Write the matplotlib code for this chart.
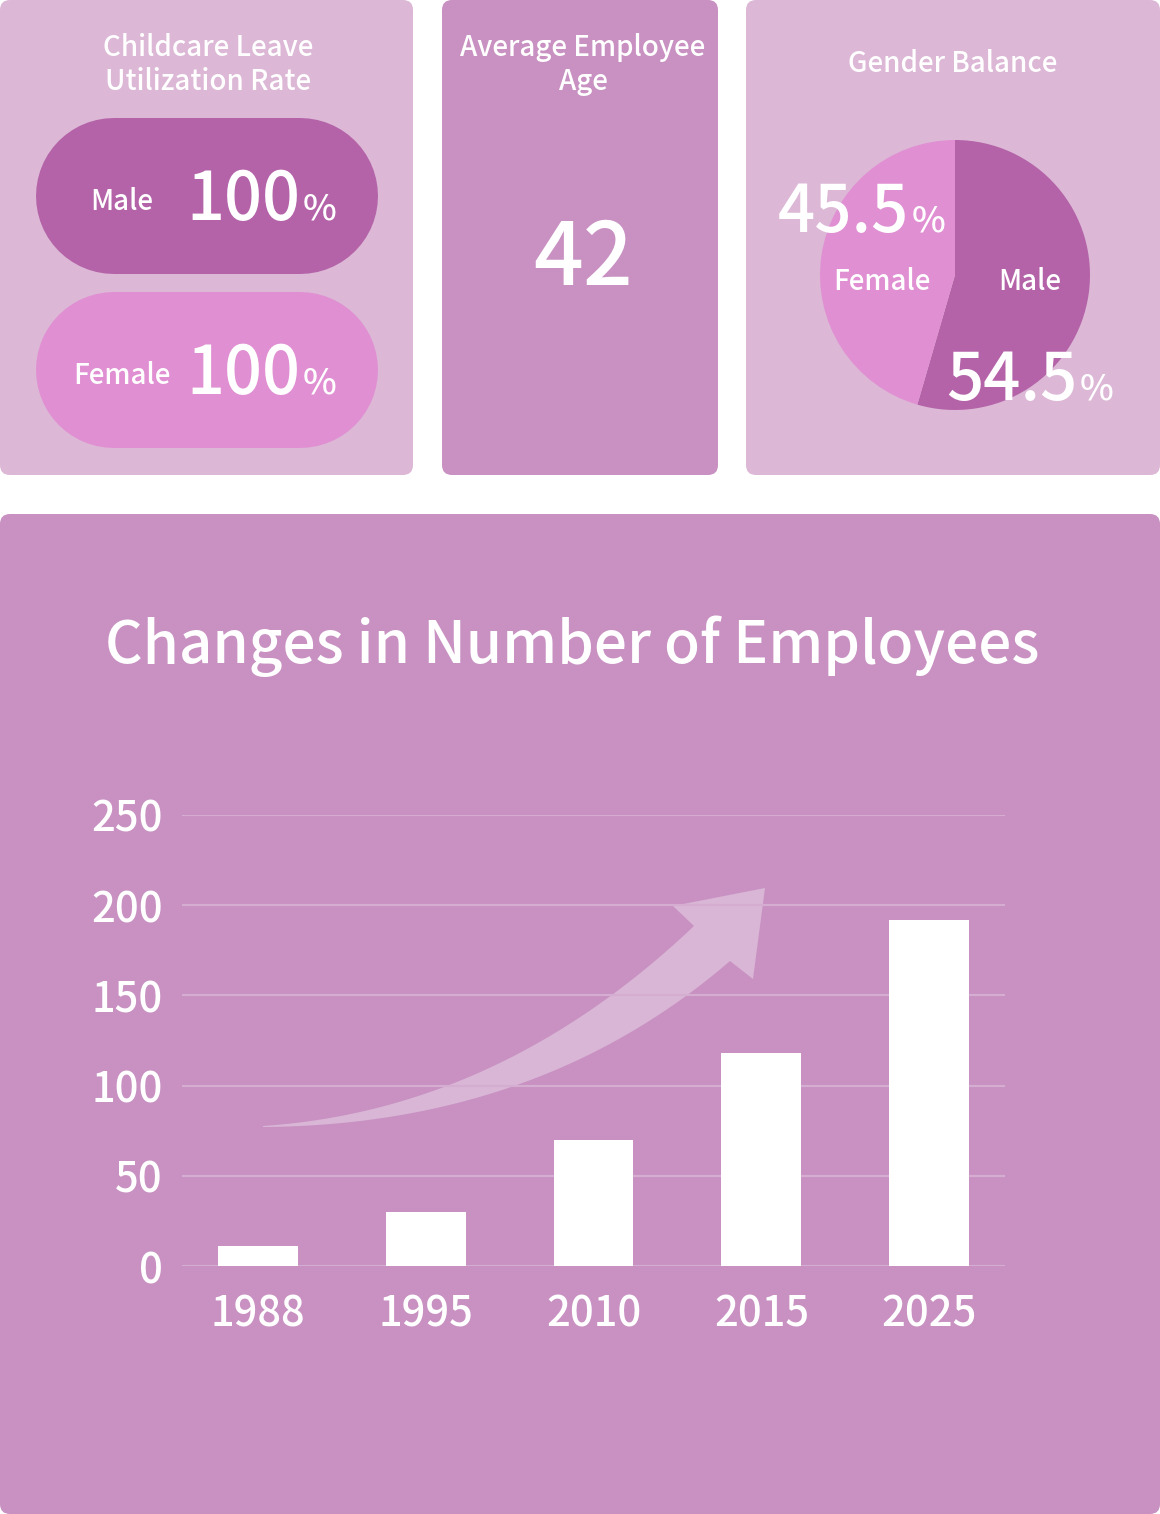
import numpy as np
import matplotlib
matplotlib.use("Agg")
import matplotlib.pyplot as plt
from matplotlib.patches import FancyBboxPatch, Polygon

plt.rcParams['font.family'] = ['Noto Sans CJK JP', 'DejaVu Sans']
plt.rcParams['font.weight'] = 'medium'

# data
years = ['1988', '1995', '2010', '2015', '2025']
employees = [11, 30, 70, 118, 192]
y_ticks = [0, 50, 100, 150, 200, 250]
gender_labels = ['Male', 'Female']
gender_share = [54.5, 45.5]
leave_labels = ['Male', 'Female']
leave_rate = [100, 100]
avg_age = 42

W, H = 1160, 1514
light = '#DCB8D6'
dark = '#C891C2'
male_c = '#B463A8'
female_c = '#E090D2'
arrow_c = '#D9B6D6'
grid_c = '#D5ADD0'

fig = plt.figure(figsize=(W / 100, H / 100), dpi=100, facecolor='white')

bg = fig.add_axes([0, 0, 1, 1])
bg.set_xlim(0, W)
bg.set_ylim(H, 0)
bg.axis('off')


def box(x, y, w, h, color, r):
    bg.add_patch(FancyBboxPatch((x, y), w, h, boxstyle=f"round,pad=0,rounding_size={r}",
                                fc=color, ec='none'))


def pill(x, y, w, h, color):
    # stadium shape drawn as a thick line with round caps
    lw = h * 72 / 100
    bg.plot([x + h / 2, x + w - h / 2], [y + h / 2, y + h / 2], color=color,
            lw=lw, solid_capstyle='round')


def txt(x, y, s, size, ha='center', va='center'):
    fig.text(x / W, 1 - y / H, s, fontsize=size, color='white', ha=ha, va=va)


# panels
box(0, 0, 413, 475, light, 10)
box(442, 0, 276, 475, dark, 10)
box(746, 0, 414, 475, light, 10)
box(0, 514, 1160, 1000, dark, 10)

# childcare leave panel
txt(208, 47, 'Childcare Leave', 20)
txt(208, 81, 'Utilization Rate', 20)
pill_y = [118, 292]
pill_cols = [male_c, female_c]
for lab, val, py, pc in zip(leave_labels, leave_rate, pill_y, pill_cols):
    pill(36, py, 342, 156, pc)
    txt(122, py + 83, lab, 20)
    txt(300, py + 102, f'{val}', 48, ha='right', va='baseline')
    txt(303, py + 102, '%', 26, ha='left', va='baseline')

# average age panel
txt(583, 47, 'Average Employee', 20)
txt(583, 81, 'Age', 20)
txt(583, 285, f'{avg_age}', 63, va='baseline')

# gender panel
txt(953, 63, 'Gender Balance', 20)
cx, cy, r = 955, 275, 135
pax = fig.add_axes([(cx - r) / W, (H - cy - r) / H, 2 * r / W, 2 * r / H])
pax.pie(gender_share, colors=[male_c, female_c], startangle=90, counterclock=False,
        wedgeprops=dict(linewidth=0))
pax.set_xlim(-1, 1)
pax.set_ylim(-1, 1)
pax.axis('off')
txt(1030, 281, gender_labels[0], 20)
txt(882, 281, gender_labels[1], 20)
txt(1077, 400, f'{gender_share[0]}', 47, ha='right', va='baseline')
txt(1080, 400, '%', 26, ha='left', va='baseline')
txt(909, 232, f'{gender_share[1]}', 47, ha='right', va='baseline')
txt(912, 232, '%', 26, ha='left', va='baseline')

# bottom chart
txt(572, 646, 'Changes in Number of Employees', 42)


def qbez(p0, c, p2, n=60):
    t = np.linspace(0, 1, n)[:, None]
    return (1 - t) ** 2 * np.array(p0) + 2 * t * (1 - t) * np.array(c) + t ** 2 * np.array(p2)


upper = qbez((263, 1126), (500, 1110), (694, 926))
lower = qbez((263, 1127), (540, 1125), (730, 961))
head = np.array([(694, 926), (673, 906), (765, 888), (753, 979), (730, 961)])
arrow_pts = np.vstack([upper, head, lower[::-1]])
bg.add_patch(Polygon(arrow_pts, closed=True, fc=arrow_c, ec='none'))

ax = fig.add_axes([182 / W, (H - 1266) / H, (1005 - 182) / W, (1266 - 815) / H])
ax.set_facecolor('none')
x = np.arange(len(years))
ax.bar(x, employees, width=0.476, color='white', zorder=3)
ax.set_xlim(-0.45, 4.45)
ax.set_ylim(0, 250)
ax.set_yticks(y_ticks)
ax.set_xticks(x, years)
ax.yaxis.grid(True, color=grid_c, linewidth=1.5)
ax.set_axisbelow(True)
for s in ax.spines.values():
    s.set_visible(False)
ax.tick_params(axis='both', length=0, colors='white', labelsize=30)
ax.tick_params(axis='y', pad=14)
ax.tick_params(axis='x', pad=19)

fig.savefig('out.png', dpi=100, facecolor='white')
